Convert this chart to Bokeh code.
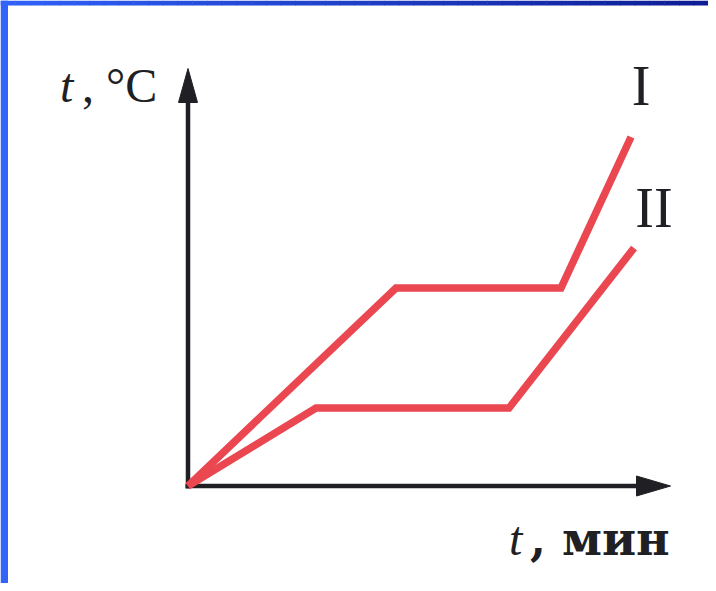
import numpy as np
from bokeh.plotting import figure
from bokeh.models import Label, Range1d
from bokeh.embed import file_html
from bokeh.resources import INLINE

# ---- data (arbitrary units) ----
series_names = ["I", "II"]
time_I = [0.0, 20.8, 37.3, 44.3]
temp_I = [0.0, 19.8, 19.8, 34.9]
time_II = [0.0, 12.8, 32.1, 44.6]
temp_II = [0.0, 7.8, 7.8, 23.8]
x_axis_end = 48.25
y_axis_end = 41.75
x_label = ["t", ", мин"]
y_label = ["t", ", °C"]

RED = "#EA4751"
INK = "#1f1f24"

W, H = 708, 583
X0, X1 = -18.75, 52.05
Y0, Y1 = -9.75, 48.55

p = figure(width=W, height=H, output_backend="svg", toolbar_location=None,
           x_range=Range1d(X0, X1), y_range=Range1d(Y0, Y1),
           min_border=0, outline_line_color=None)
p.axis.visible = False
p.grid.visible = False
p.background_fill_color = "white"
p.border_fill_color = "white"

# decorative slide frame (blue bars on the left and top)
def px_x(px):
    return X0 + px * (X1 - X0) / W

def px_y(py):
    return Y1 - py * (Y1 - Y0) / H

n = 48
edges = np.linspace(0, W, n + 1)
c0 = np.array([48, 98, 250])
c1 = np.array([14, 28, 148])
cols = []
for i in range(n):
    t = (edges[i] + edges[i + 1]) / 2 / W
    c = (c0 * (1 - t) + c1 * t).astype(int)
    cols.append("#%02x%02x%02x" % tuple(c))
p.quad(left=[px_x(e) for e in edges[:-1]], right=[px_x(e) + 0.05 for e in edges[1:]],
       top=[Y1] * n, bottom=[px_y(5)] * n, fill_color=cols, line_color=None)
p.quad(left=[X0], right=[px_x(7.5)], top=[Y1], bottom=[Y0],
       fill_color="#3264fa", line_color=None)

# axes as arrows
p.line([-0.25, x_axis_end - 3.0], [0, 0], line_color=INK, line_width=4.5)
p.line([0, 0], [-0.25, y_axis_end - 3.0], line_color=INK, line_width=4.5)
hl, hw = 3.4, 1.0
p.patch([x_axis_end, x_axis_end - hl, x_axis_end - hl], [0, hw, -hw], color=INK)
p.patch([0, hw * 0.95, -hw * 0.95], [y_axis_end, y_axis_end - hl, y_axis_end - hl], color=INK)

# series
p.line(time_I, temp_I, line_color=RED, line_width=7.5, line_join="miter")
p.line(time_II, temp_II, line_color=RED, line_width=7.5, line_join="miter")

# labels
def lab(x, y, text, size, style="normal", align="left", font="Liberation Serif"):
    p.add_layout(Label(x=x, y=y, text=text, text_font=font, text_font_size=f"{size}px",
                       text_font_style=style, text_color=INK, text_align=align,
                       text_baseline="alphabetic"))

lab(-12.8, 40.05, y_label[0], 48, "italic")
lab(-10.6, 40.05, y_label[1], 48)
lab(32.1, -5.25, x_label[0], 48, "italic")
lab(34.2, -5.25, x_label[1], 46, "bold", font="DejaVu Serif")
lab(time_I[-1] + 1.0, 40.05, series_names[0], 56, align="center")
lab(time_II[-1] + 2.0, 27.85, series_names[1], 56, align="center")

open("out.html", "w").write(file_html(p, INLINE))
